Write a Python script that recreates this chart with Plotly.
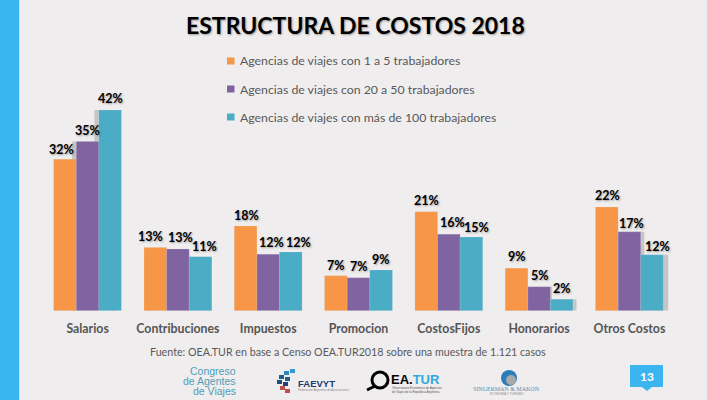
import plotly.graph_objects as go

categories = ["Salarios", "Contribuciones", "Impuestos", "Promocion", "CostosFijos", "Honorarios", "Otros Costos"]
series_names = ["Agencias de viajes con 1 a 5 trabajadores",
                "Agencias de viajes con 20 a 50 trabajadores",
                "Agencias de viajes con más de 100 trabajadores"]
small = [31.7, 13.2, 17.7, 7.3, 20.7, 8.9, 21.7]
medium = [35.4, 12.9, 11.8, 6.9, 16.0, 5.0, 16.5]
large = [42.0, 11.3, 12.3, 8.5, 15.4, 2.4, 11.7]
small_labels = ["32%", "13%", "18%", "7%", "21%", "9%", "22%"]
medium_labels = ["35%", "13%", "12%", "7%", "16%", "5%", "17%"]
large_labels = ["42%", "11%", "12%", "9%", "15%", "2%", "12%"]
colors = ["#F79646", "#8064A2", "#4BACC6"]
title = "ESTRUCTURA DE COSTOS 2018"
source = "Fuente: OEA.TUR en base a Censo OEA.TUR2018 sobre una muestra de 1.121 casos"

# label nudges in pixels, one row per series
label_dx = [[-25.6, -26.9, -22.2, -22.5, -22.1, -22.3, -22.4],
            [0.2, 3.1, 2.8, 0.2, 3.2, 0.6, 1.6],
            [22.4, 27.1, 29.8, 22.5, 27.2, 22.9, 27.6]]
label_dy = [[10, 10.7, 11, 10.8, 10.8, 11.2, 11],
            [10.7, 11.5, 11.3, 11, 11.5, 10.8, 8.8],
            [11, 9.7, 9.9, 11, 9.4, 11.2, 7.8]]
# shadow offset in category units, one row per series
shadow_shift = [[0, 0, 0, 0, 0, 0, 0],
                [-0.045, 0, 0, 0, 0, 0.02, 0.04],
                [-0.05, 0, 0, 0, 0, 0.04, 0.055]]

W, H = 707, 400
def px(x): return x / W
def py(y): return 1 - y / H

BASE, UNIT = 310.7, 4.78
YMAX = 45
BAR = 0.25
fig = go.Figure()
groups = [small, medium, large]
labels = [small_labels, medium_labels, large_labels]
for i, vals in enumerate(groups):
    fig.add_bar(x=categories, y=vals, width=BAR,
                offset=[-0.375 + i * BAR + s for s in shadow_shift[i]],
                marker=dict(color="rgba(60,60,60,0.22)", line_width=0),
                showlegend=False, hoverinfo="skip")
for i, vals in enumerate(groups):
    fig.add_bar(x=categories, y=vals, width=BAR, offset=-0.375 + i * BAR, name=series_names[i],
                marker=dict(color=colors[i], line=dict(color="rgba(255,255,255,0.25)", width=0.5)),
                showlegend=False)

shapes = [dict(type="rect", xref="paper", yref="paper", x0=0, x1=px(19), y0=0, y1=1,
               fillcolor="#3BB5F0", line_width=0),
          dict(type="rect", xref="paper", yref="paper", x0=px(19), x1=px(20), y0=0, y1=1,
               fillcolor="#BFE6F8", line_width=0)]
anns = []
for i, vals in enumerate(groups):
    for j, v in enumerate(vals):
        anns.append(dict(x=categories[j], y=v, xref="x", yref="y", text=labels[i][j], showarrow=False,
                         xshift=label_dx[i][j], yshift=label_dy[i][j], xanchor="center", yanchor="middle",
                         font=dict(family="Lato", size=12.5, color="#000000", weight="bold",
                                   shadow="1px 1px 2px rgba(0,0,0,0.35)")))

def text(x, y, s, size=12, color="#555555", anchor="left", family="Lato", weight="normal", **kw):
    anns.append(dict(x=px(x), y=py(y), xref="paper", yref="paper", text=s, showarrow=False,
                     xanchor=anchor, yanchor="middle", align=anchor,
                     font=dict(family=family, size=size, color=color, weight=weight, **kw)))
def rect(x0, y0, x1, y1, color):
    shapes.append(dict(type="rect", xref="paper", yref="paper", x0=px(x0), x1=px(x1), y0=py(y1), y1=py(y0),
                       fillcolor=color, line_width=0))

text(355, 25, title, size=23, color="#000000", anchor="center", weight="bold",
     shadow="1px 1px 2px rgba(0,0,0,0.35)")
for i, (n, yy) in enumerate(zip(series_names, [61, 89, 117])):
    rect(227, yy - 3.5, 234.5, yy + 3.5, colors[i])
    text(238, yy, n, size=12.3, color="#595959")
text(347.5, 351, source, size=10.7, color="#595959", anchor="center")

# footer logos
for s, yy in zip(["Congreso", "de Agentes", "de Viajes"], [371, 381, 391]):
    text(238, yy, s, size=10.5, color="#4F9DB8", anchor="right", family="Liberation Sans")
for (x0, y0, c) in [(290, 369, "#2E9BD6"), (284, 371, "#2E86C1"), (279, 375, "#1F5F8B"),
                    (285, 377, "#1F5F8B"), (277, 380, "#1F4E79"), (283, 382, "#2C3E7A"),
                    (280, 386, "#C0504D"), (285, 389, "#C0504D")]:
    rect(x0, y0, x0 + 5, y0 + 4, c)
text(296, 383, "FAEVYT", size=9.5, color="#1F3A6E", family="Liberation Sans", weight="bold")
text(296, 390, "Federación Argentina de Asociaciones", size=3, color="#8A8A8A", family="Liberation Sans")
shapes.append(dict(type="circle", xref="paper", yref="paper", x0=px(372), x1=px(388), y0=py(388), y1=py(372),
                   line=dict(color="#000000", width=3)))
shapes.append(dict(type="line", xref="paper", yref="paper", x0=px(367), x1=px(375), y0=py(390), y1=py(386),
                   line=dict(color="#000000", width=3)))
text(389, 379, "EA.<span style='color:#2FA8E0'>TUR</span>", size=13, color="#000000", family="Liberation Sans", weight="bold")
text(390, 388, "Observatorio Económico de Agencias", size=3, color="#555555", family="Liberation Sans")
text(390, 392, "de Viajes de la República Argentina", size=3, color="#555555", family="Liberation Sans")
shapes.append(dict(type="circle", xref="paper", yref="paper", x0=px(501), x1=px(517), y0=py(386), y1=py(370),
                   fillcolor="#2A7DBA", line_width=0))
shapes.append(dict(type="circle", xref="paper", yref="paper", x0=px(506), x1=px(516), y0=py(385), y1=py(375),
                   fillcolor="#A9A9A9", line_width=0))
text(506.5, 389, "SINGERMAN & MAKON", size=6, color="#5C8DB0", anchor="center", family="Liberation Serif")
text(506.5, 394, "ECONOMÍA Y TURISMO", size=3, color="#8A8A8A", anchor="center", family="Liberation Sans")
rect(630, 365, 663, 387, "#3BB5F0")
shapes.append(dict(type="path", xref="paper", yref="paper",
                   path=f"M {px(642)} {py(387)} L {px(652)} {py(387)} L {px(647)} {py(391)} Z",
                   fillcolor="#3BB5F0", line_width=0))
text(646.5, 376, "13", size=12, color="#FFFFFF", anchor="center", weight="bold")

fig.update_layout(
    width=W, height=H, autosize=False, margin=dict(l=0, r=0, t=0, b=0),
    paper_bgcolor="#EFEDEE", plot_bgcolor="#EFEDEE", barmode="overlay", showlegend=False,
    shapes=shapes, annotations=anns,
    xaxis=dict(domain=[px(42.45), px(674.55)], range=[-0.5, 6.5], type="category",
               showgrid=False, zeroline=False, showline=False,
               ticks="outside", ticklen=7, tickcolor="rgba(0,0,0,0)",
               tickfont=dict(family="Lato", size=12.3, color="#555555", weight="bold")),
    yaxis=dict(domain=[py(BASE), py(BASE - UNIT * YMAX)], range=[0, YMAX], visible=False),
)
fig.write_html("out.html", config=dict(displayModeBar=False),
               post_script="document.body.style.margin='0';document.documentElement.style.background='#EFEDEE';")
